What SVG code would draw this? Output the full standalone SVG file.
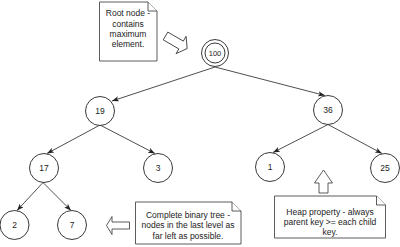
<svg xmlns="http://www.w3.org/2000/svg" width="400" height="247" viewBox="0 0 400 247">
<style>
.n{fill:#fff;stroke:#222;stroke-width:0.9}
.t{font-family:"Liberation Sans",Arial,sans-serif;font-size:8.5px;fill:#222;text-anchor:middle}
.e{stroke:#222;stroke-width:0.8;fill:none}
.note{fill:#fff;stroke:#333;stroke-width:0.8}
.blk{fill:#fff;stroke:#333;stroke-width:0.8;stroke-linejoin:miter}
</style>
<defs>
<marker id="arr" viewBox="0 0 8 6" refX="8" refY="3" markerWidth="7" markerHeight="5.25" orient="auto" markerUnits="userSpaceOnUse">
<path d="M0,0 L8,3 L0,6 L2,3 Z" fill="#222"/>
</marker>
</defs>
<g id="edges">
<line class="e" x1="215" y1="67" x2="112" y2="101" marker-end="url(#arr)"/>
<line class="e" x1="215" y1="67" x2="325" y2="95.5" marker-end="url(#arr)"/>
<line class="e" x1="100" y1="125" x2="47" y2="153.5" marker-end="url(#arr)"/>
<line class="e" x1="100" y1="125" x2="155" y2="153.5" marker-end="url(#arr)"/>
<line class="e" x1="328" y1="124.5" x2="273" y2="152.5" marker-end="url(#arr)"/>
<line class="e" x1="328" y1="124.5" x2="382" y2="153.5" marker-end="url(#arr)"/>
<line class="e" x1="43" y1="182.5" x2="17" y2="210.5" marker-end="url(#arr)"/>
<line class="e" x1="43" y1="182.5" x2="71" y2="210.5" marker-end="url(#arr)"/>
</g>
<g id="root">
<circle class="n" cx="215" cy="53" r="13.5"/>
<circle class="n" cx="215" cy="53" r="10"/>
<text class="t" x="215" y="55.7" style="font-size:7.5px">100</text>
</g>
<g id="n19"><circle class="n" cx="100" cy="111" r="14.5"/><text class="t" x="100" y="114">19</text></g>
<g id="n36"><circle class="n" cx="328" cy="110" r="14.5"/><text class="t" x="328" y="113">36</text></g>
<g id="n17"><circle class="n" cx="44" cy="168" r="14.5"/><text class="t" x="44" y="171">17</text></g>
<g id="n3"><circle class="n" cx="158" cy="168" r="14.5"/><text class="t" x="158" y="171">3</text></g>
<g id="n1"><circle class="n" cx="270" cy="167" r="14.5"/><text class="t" x="270" y="170">1</text></g>
<g id="n25"><circle class="n" cx="385" cy="168" r="14.5"/><text class="t" x="385" y="171">25</text></g>
<g id="n2"><circle class="n" cx="14.5" cy="225" r="14.5"/><text class="t" x="14.5" y="228">2</text></g>
<g id="n7"><circle class="n" cx="72" cy="225" r="14.5"/><text class="t" x="72" y="228">7</text></g>
<g id="note-root">
<path class="note" d="M99.5,2 H148 L157,11 V61 H99.5 Z"/>
<path class="note" d="M148,2 V11 H157"/>
<text class="t"><tspan x="128" y="16.3">Root node -</tspan><tspan x="128" y="26.6">contains</tspan><tspan x="128" y="36.9">maximum</tspan><tspan x="128" y="47.2">element.</tspan></text>
</g>
<g id="arrow-root">
<polygon class="blk" transform="translate(165.5,36) rotate(30)" points="0,-4.5 18,-4.5 18,-10 25,0 18,10 18,4.5 0,4.5"/>
</g>
<g id="note-complete">
<path class="note" d="M135.5,202 H232 L241,211 V244 H135.5 Z"/>
<path class="note" d="M232,202 V211 H241"/>
<text class="t"><tspan x="188" y="218">Complete binary tree -</tspan><tspan x="188" y="228.3">nodes in the last level as</tspan><tspan x="188" y="238.6">far left as possible.</tspan></text>
</g>
<g id="arrow-complete">
<polygon class="blk" points="106.5,225.5 112,216.5 112,222 129.5,222 129.5,229 112,229 112,234.5"/>
</g>
<g id="note-heap">
<path class="note" d="M274.5,196 H376.5 L385.5,205 V238 H274.5 Z"/>
<path class="note" d="M376.5,196 V205 H385.5"/>
<text class="t"><tspan x="330" y="214.5">Heap property - always</tspan><tspan x="330" y="224.8">parent key &gt;= each child</tspan><tspan x="330" y="235.1">key.</tspan></text>
</g>
<g id="arrow-heap">
<polygon class="blk" points="323.5,170 332.5,183 328,183 328,193 319,193 319,183 314.5,183"/>
</g>
</svg>
